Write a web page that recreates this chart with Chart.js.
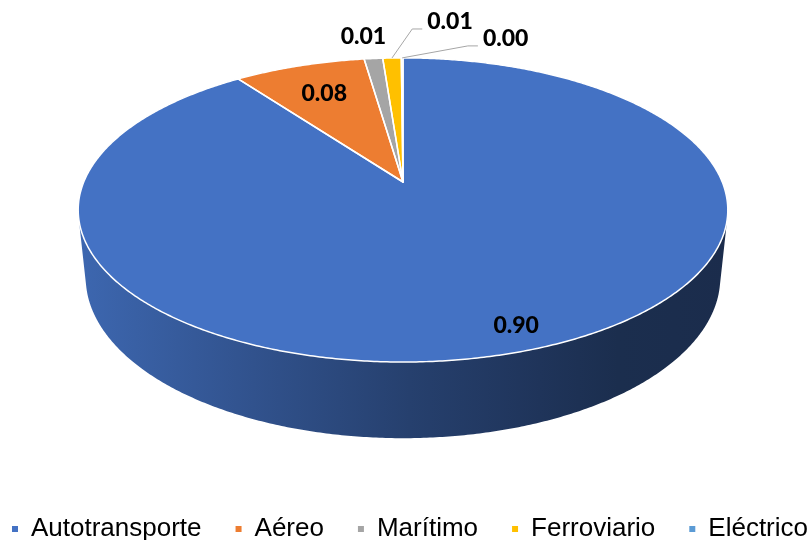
<!DOCTYPE html>
<html>
<head>
<meta charset="utf-8">
<script src="https://cdn.jsdelivr.net/npm/chart.js@4/dist/chart.umd.min.js"></script>
<style>
  html, body { margin: 0; padding: 0; background: #fff; }
  #wrap { width: 810px; height: 540px; position: relative; }
</style>
</head>
<body>
<div id="wrap"><canvas id="c" width="810" height="540"></canvas></div>
<script>
// Share of each transport mode
const categories = ['Autotransporte', 'Aéreo', 'Marítimo', 'Ferroviario', 'Eléctrico'];
const shares = [0.899, 0.078, 0.011, 0.011, 0.001];
const sliceColors = ['#4472C4', '#ED7D31', '#A5A5A5', '#FFC000', '#5B9BD5'];

// Where each value label sits: r = radial fraction at the slice's mid-angle,
// dx/dy = pixel nudge, leader = draw an elbow line back to the rim
const labelStyle = [
  { r: 0.87, dx: 11, dy: 0, leader: false },
  { r: 0.73, dx: 0, dy: 0, leader: false },
  { r: 1.0, dx: -10, dy: -22, leader: false },
  { r: 1.0, dx: 58, dy: -36, leader: true },
  { r: 1.0, dx: 103.5, dy: -19, leader: true }
];

// Perspective camera for the tilted disc
const cam = { cx: 403, cy: 182, f: 1542, dist: 4.83, tilt: 27.4 * Math.PI / 180, depth: 0.24 };
const sinT = Math.sin(cam.tilt), cosT = Math.cos(cam.tilt);

// u: right, v: away from viewer, h: height (0 = top face, -depth = bottom face)
function project(u, v, h) {
  const camY = h * cosT + v * sinT;
  const z = cam.dist - h * sinT + v * cosT;
  return { x: cam.cx + cam.f * u / z, y: cam.cy - cam.f * camY / z };
}
// Chart.js arc angle (canvas convention, clockwise from 3 o'clock) to rim point
function rimPoint(a, r, h) {
  return project(r * Math.cos(a), -r * Math.sin(a), h);
}

function hexToRgb(hex) {
  const n = parseInt(hex.slice(1), 16);
  return [(n >> 16) & 255, (n >> 8) & 255, n & 255];
}
function shade(hex, k) {
  const [r, g, b] = hexToRgb(hex);
  return `rgb(${Math.round(r * k)},${Math.round(g * k)},${Math.round(b * k)})`;
}

function slicePath(ctx, apex, s, e) {
  const n = Math.max(2, Math.ceil((e - s) * 120));
  ctx.beginPath();
  ctx.moveTo(apex.x, apex.y);
  for (let k = 0; k <= n; k++) {
    const p = rimPoint(s + (e - s) * k / n, 1, 0);
    ctx.lineTo(p.x, p.y);
  }
  ctx.closePath();
}

const pie3d = {
  id: 'pie3d',
  beforeDatasetsDraw(chart) {
    const ctx = chart.ctx;
    const arcs = chart.getDatasetMeta(0).data;
    const ds = chart.data.datasets[0];
    const bottom = -cam.depth;

    // visible band of the cylinder wall (front half)
    const lim = Math.asin(1 / (cam.dist * cosT));
    const vis0 = lim, vis1 = Math.PI - lim;
    const leftX = cam.cx - 326, rightX = cam.cx + 326;

    ctx.save();
    // side walls
    arcs.forEach((arc, i) => {
      const s = Math.max(arc.startAngle, vis0);
      const e = Math.min(arc.endAngle, vis1);
      if (e <= s) return;
      const base = ds.backgroundColor[i];
      const g = ctx.createLinearGradient(leftX, 0, rightX, 0);
      g.addColorStop(0.00, shade(base, 0.90));
      g.addColorStop(0.27, shade(base, 0.72));
      g.addColorStop(0.51, shade(base, 0.56));
      g.addColorStop(0.71, shade(base, 0.46));
      g.addColorStop(0.83, shade(base, 0.40));
      g.addColorStop(1.00, shade(base, 0.39));
      const n = Math.max(4, Math.ceil((e - s) * 120));
      ctx.beginPath();
      for (let k = 0; k <= n; k++) {
        const p = rimPoint(s + (e - s) * k / n, 1, 0);
        k === 0 ? ctx.moveTo(p.x, p.y) : ctx.lineTo(p.x, p.y);
      }
      for (let k = n; k >= 0; k--) {
        const p = rimPoint(s + (e - s) * k / n, 1, bottom);
        ctx.lineTo(p.x, p.y);
      }
      ctx.closePath();
      ctx.fillStyle = g;
      ctx.fill();
    });

    // top faces, then white separators
    const apex = project(0, 0, 0);
    arcs.forEach((arc, i) => {
      slicePath(ctx, apex, arc.startAngle, arc.endAngle);
      ctx.fillStyle = ds.backgroundColor[i];
      ctx.fill();
    });
    arcs.forEach((arc) => {
      slicePath(ctx, apex, arc.startAngle, arc.endAngle);
      ctx.strokeStyle = '#ffffff';
      ctx.lineWidth = 1.5;
      ctx.lineJoin = 'round';
      ctx.stroke();
    });

    // value labels
    ctx.font = '900 23px Lato, "Open Sans", sans-serif';
    ctx.textAlign = 'center';
    ctx.textBaseline = 'middle';
    arcs.forEach((arc, i) => {
      const st = labelStyle[i];
      const mid = (arc.startAngle + arc.endAngle) / 2;
      const anchor = rimPoint(mid, st.r, 0);
      const lx = anchor.x + st.dx, ly = anchor.y + st.dy;
      const text = ds.data[i].toFixed(2);
      if (st.leader) {
        const w = ctx.measureText(text).width;
        const left = lx - w / 2;
        ctx.beginPath();
        ctx.moveTo(anchor.x, anchor.y);
        ctx.lineTo(left - 15, ly + 7);
        ctx.lineTo(left - 5, ly + 7);
        ctx.strokeStyle = '#a6a6a6';
        ctx.lineWidth = 1;
        ctx.stroke();
      }
      ctx.fillStyle = '#000000';
      ctx.fillText(text, lx, ly);
    });
    ctx.restore();
    return false;
  }
};

new Chart(document.getElementById('c'), {
  type: 'pie',
  data: {
    labels: categories,
    datasets: [{
      data: shares,
      backgroundColor: sliceColors,
      borderWidth: 0
    }]
  },
  options: {
    responsive: false,
    animation: false,
    layout: { padding: { left: -35, right: -45, top: 0, bottom: -12 } },
    plugins: {
      tooltip: { enabled: false },
      legend: {
        position: 'bottom',
        labels: {
          boxWidth: 6,
          boxHeight: 6,
          padding: 34,
          color: '#000000',
          font: { family: '"Liberation Sans", Arial, sans-serif', size: 26 }
        }
      }
    }
  },
  plugins: [pie3d]
});
</script>
</body>
</html>
